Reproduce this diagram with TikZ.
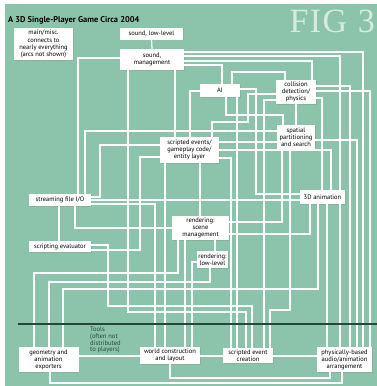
\documentclass[tikz,border=0pt]{standalone}
\usepackage{fontspec}
\setmainfont{PT Sans}
\newfontfamily\figfont{Liberation Serif}
\usetikzlibrary{shadows}
\definecolor{board}{RGB}{139,196,170}
\definecolor{rulecol}{RGB}{38,72,58}
\definecolor{figtxt}{RGB}{214,234,224}

\begin{document}
\begin{tikzpicture}[x=1pt, y=-1pt,
  box/.style={rectangle, fill=white, inner sep=0.8pt, align=center,
    font=\fontsize{6.5}{7.1}\selectfont,
    drop shadow={opacity=0.25, shadow xshift=0.6pt, shadow yshift=-0.6pt}},
  wire/.style={draw=white, line width=1.3pt}]

  % backdrop
  \useasboundingbox (0,0) rectangle (377,386);
  \fill[white] (0,0) rectangle (377,386);
  \fill[board] (5,4) rectangle (377,386);

  \node[anchor=base west, font=\bfseries\fontsize{8.4}{9}\selectfont, inner sep=0pt] (title) at (8,22)
    {A 3D Single-Player Game Circa 2004};
  \node[anchor=north east, text=figtxt, inner sep=0pt, font=\figfont\fontsize{34}{34}\selectfont] (fig) at (375,10)
    {F\kern1.5pt I\kern1.5pt G\kern2pt\ 3};

  % engine
  \node[box, minimum width=59pt, minimum height=32pt] (misc) at (43.5,44)
    {main/misc.\\connects to\\nearly everything\\(arcs not shown)};
  \node[box, minimum width=63pt, minimum height=12pt] (sndlow) at (151.5,33.5) {sound, low-level};
  \node[box, minimum width=64pt, minimum height=21pt] (sndmgmt) at (152,59.5) {sound,\\management};
  \node[box, minimum width=40pt, minimum height=13pt] (ai) at (220,90.5) {AI};
  \node[box, minimum width=40pt, minimum height=24pt] (coll) at (296,92) {collision\\detection/\\physics};
  \node[box, minimum width=38pt, minimum height=25pt] (spatial) at (296,137.5) {spatial\\partitioning\\and search};
  \node[box, minimum width=59pt, minimum height=26pt] (script) at (189.5,150)
    {scripted events/\\gameplay code/\\entity layer};
  \node[box, minimum width=62pt, minimum height=12pt] (stream) at (60,200) {streaming file I/O};
  \node[box, minimum width=62pt, minimum height=11pt] (eval) at (60,246.5) {scripting evaluator};
  \node[box, minimum width=57pt, minimum height=24pt] (scene) at (200.5,228) {rendering:\\scene\\management};
  \node[box, minimum width=31pt, minimum height=17pt] (lowlvl) at (212.5,259.5) {rendering:\\low-level};
  \node[box, minimum width=45pt, minimum height=14pt] (anim) at (322.5,197) {3D animation};

  % tools
  \node[box, minimum width=60pt, minimum height=25pt] (geom) at (48.5,359.5) {geometry and\\animation\\exporters};
  \node[box, minimum width=60pt, minimum height=17pt] (world) at (170,355.5) {world construction\\and layout};
  \node[box, minimum width=50pt, minimum height=15pt] (sevent) at (248,355.5) {scripted event\\creation};
  \node[box, minimum width=55pt, minimum height=25pt] (phys) at (344.5,359.5)
    {physically-based\\audio/animation\\arrangement};
  \node[anchor=north west, align=left, inner sep=0pt, text=rulecol,
    font=\fontsize{6.6}{6.6}\selectfont] (tools) at (90,327)
    {Tools\\(often not\\distributed\\to players)};

  % sound
  \draw[wire] (sndlow.south) -- (sndmgmt.north);
  \draw[wire] (sndmgmt.west |- 0,58) -| (stream.north -| 78,0);
  \draw[wire] (sndmgmt.south -| 128,0) -- (128,312) -| (sevent.north -| 246,0);
  \draw[wire] (sndmgmt.south -| 175,0) -- (script.north -| 175,0);
  \draw[wire] (sndmgmt.east |- 0,52) -| (phys.north -| 363,0);
  \draw[wire] (sndmgmt.east |- 0,56) -| (anim.north -| 340,0);
  \draw[wire] (sndmgmt.east |- 0,61) -| (coll.north -| 312,0);
  \draw[wire] (sndmgmt.east |- 0,65) -| (ai.north -| 222,0);

  % AI
  \draw[wire] (ai.west |- 0,91) -| (script.north -| 190,0);
  \draw[wire] (ai.north -| 232,0) -- (232,72) -| (coll.north -| 285,0);
  \draw[wire] (ai.south -| 226,0) -- (226,115) -| (spatial.north -| 283,0);
  \draw[wire] (ai.south -| 237,0) -- (sevent.north -| 237,0);
  \draw[wire] (ai.east |- 0,89) -- (256,89) |- (anim.west |- 0,194);

  % collision
  \draw[wire] (coll.south) -- (spatial.north);
  \draw[wire] (coll.west |- 0,100) -| (sevent.north -| 264,0);
  \draw[wire] (coll.west |- 0,94) -- (248,94) -- (248,122) -| (script.north -| 212,0);
  \draw[wire] (coll.east |- 0,86) -| (phys.north -| 350,0);
  \draw[wire] (coll.east |- 0,91) -| (phys.north -| 370,0);
  \draw[wire] (coll.east |- 0,98) -| (anim.north -| 322,0);

  % spatial
  \draw[wire] (spatial.west |- 0,142) -- (script.east |- 0,142);
  \draw[wire] (spatial.south -| 282,0) -- (282,222) -- (scene.east |- 0,222);
  \draw[wire] (spatial.south -| 290,0) -- (290,310) -| (sevent.north -| 270,0);
  \draw[wire] (spatial.east |- 0,140) -| (phys.north -| 357,0);

  % scripted events
  \draw[wire] (script.east |- 0,150) -| (anim.north -| 331,0);
  \draw[wire] (script.east |- 0,158) -| (sevent.north -| 231,0);
  \draw[wire] (script.south -| 200,0) -- (scene.north -| 200,0);
  \draw[wire] (script.south -| 165,0) -- (world.north -| 165,0);

  % streaming
  \draw[wire] (stream.north -| 85,0) |- (spatial.west |- 0,131);
  \draw[wire] (stream.east |- 0,197) -- (100,197) |- (script.west |- 0,145);
  \draw[wire] (stream.east |- 0,200) -- (anim.west |- 0,200);
  \draw[wire] (stream.east |- 0,204) -| (world.north -| 155,0);
  \draw[wire] (stream.south -| 75,0) |- (scene.west |- 0,228);
  \draw[wire] (stream.south -| 59,0) -- (eval.north -| 59,0);

  % scripting evaluator
  \draw[wire] (eval.east |- 0,245) -- (108,245) -- (108,306) -| (sevent.north -| 252,0);
  \draw[wire] (eval.east |- 0,250) -- (140,250) |- (script.west |- 0,157);

  % rendering
  \draw[wire] (scene.south -| 215,0) -- (lowlvl.north -| 215,0);
  \draw[wire] (scene.south -| 185,0) -- (world.north -| 185,0);
  \draw[wire] (scene.east |- 0,234) -| (anim.south -| 310,0);
  \draw[wire] (lowlvl.west |- 0,262) -| (world.north -| 192,0);

  % animation
  \draw[wire] (anim.south -| 327,0) -- (phys.north -| 327,0);
  \draw[wire] (anim.south -| 340,0) -- (phys.north -| 340,0);

  % tools wiring
  \draw[wire] (geom.north -| 34,0) -- (34,273) -| (scene.south -| 178,0);
  \draw[wire] (geom.north -| 49,0) -- (49,282) -| (lowlvl.south -| 210,0);
  \draw[wire] (geom.north -| 63,0) -- (63,289) -| (anim.south -| 318,0);
  \draw[wire] (geom.east |- 0,356) -- (world.west |- 0,356);
  \draw[wire] (world.east |- 0,356) -- (sevent.west |- 0,356);
  \draw[wire] (sevent.east |- 0,356) -- (phys.west |- 0,356);
  \draw[wire] (geom.south -| 50,0) -- (50,383) -| (phys.south -| 342,0);
  \draw[wire] (world.south -| 170,0) -- (170,378) -| (phys.south -| 330,0);

  % tools divider
  \draw[rulecol, line width=1.3pt] (18,324) -- (377,324);
\end{tikzpicture}
\end{document}
